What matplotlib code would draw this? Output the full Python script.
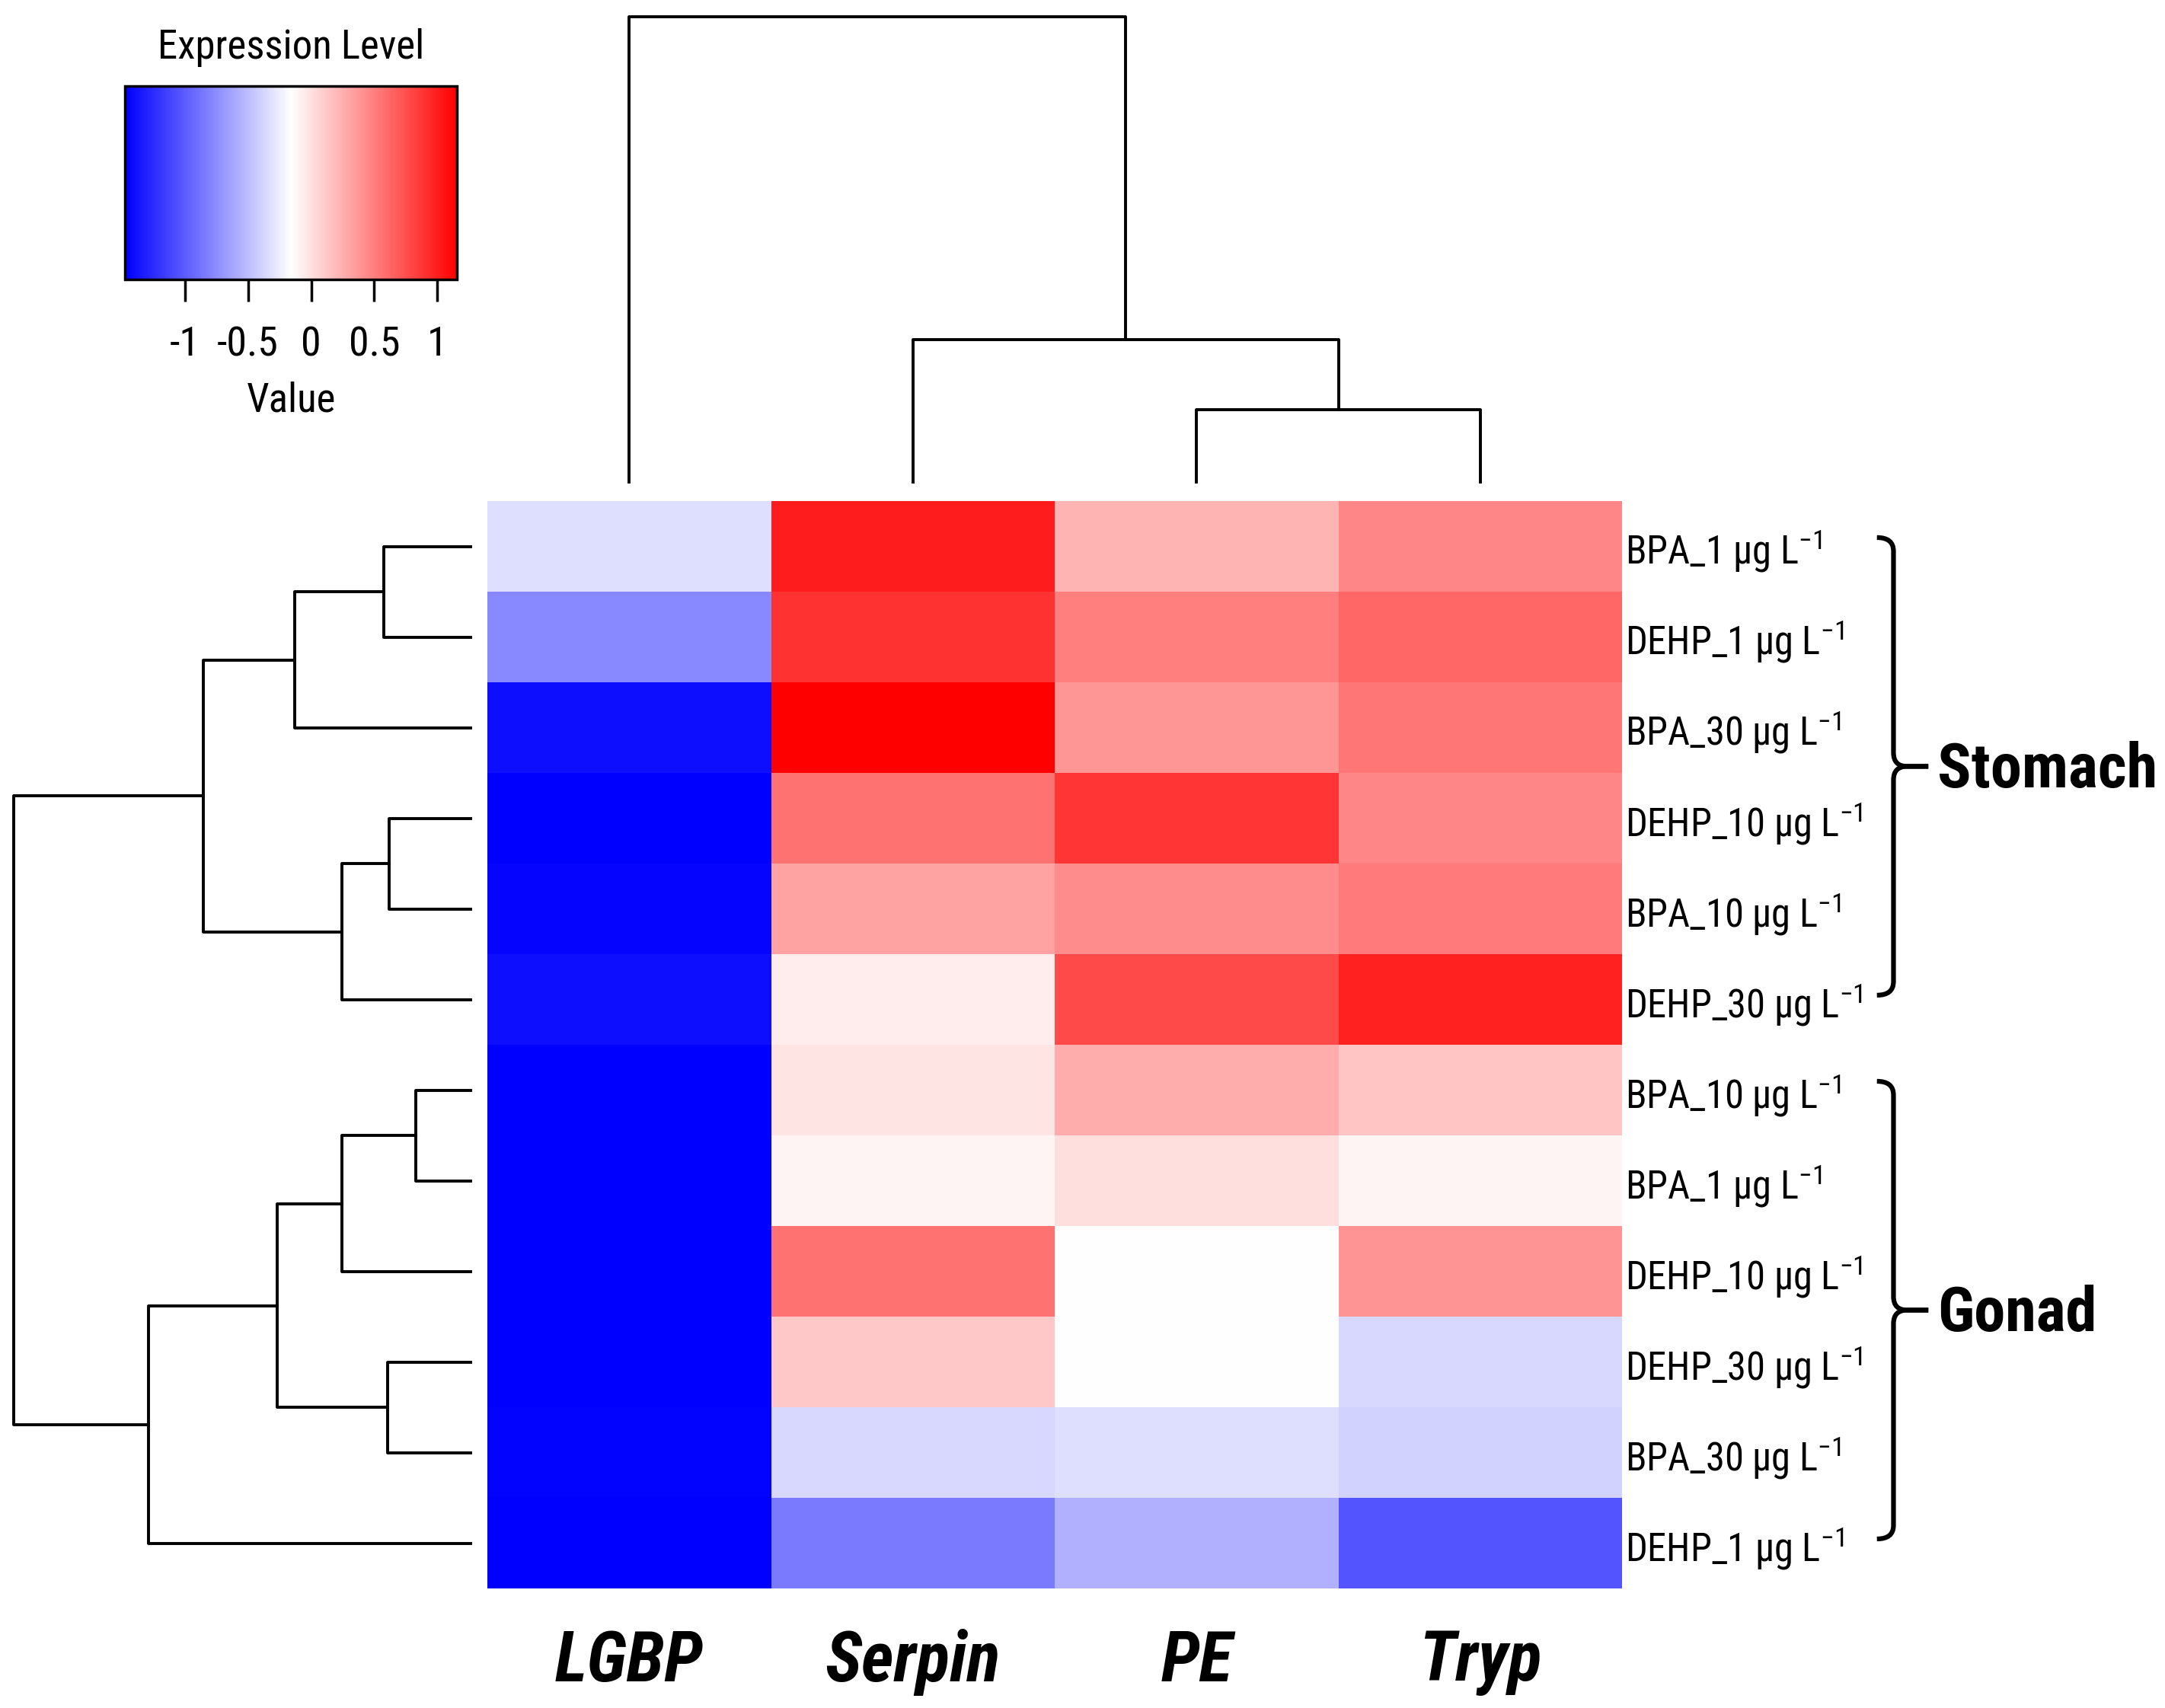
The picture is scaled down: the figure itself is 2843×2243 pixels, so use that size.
import numpy as np
import matplotlib
matplotlib.use("Agg")
import matplotlib.pyplot as plt
from matplotlib import font_manager
from matplotlib.colors import LinearSegmentedColormap, Normalize
from matplotlib.cm import ScalarMappable
from matplotlib.path import Path
from matplotlib.patches import PathPatch

genes = ["LGBP", "Serpin", "PE", "Tryp"]
samples = ["BPA_1", "DEHP_1", "BPA_30", "DEHP_10", "BPA_10", "DEHP_30",
           "BPA_10", "BPA_1", "DEHP_10", "DEHP_30", "BPA_30", "DEHP_1"]
tissues = ["Stomach", "Gonad"]
tissue_rows = [(0, 5), (6, 11)]

lgbp = [-0.33, -0.77, -1.40, -1.476, -1.45, -1.40, -1.476, -1.47, -1.47, -1.476, -1.46, -1.476]
serpin = [1.01, 0.89, 1.157, 0.565, 0.315, -0.06, -0.02, -0.10, 0.565, 0.12, -0.36, -0.84]
pe = [0.225, 0.50, 0.38, 0.88, 0.43, 0.775, 0.27, 0.01, -0.16, -0.16, -0.325, -0.57]
tryp = [0.46, 0.63, 0.54, 0.46, 0.525, 0.985, 0.145, -0.10, 0.39, -0.36, -0.39, -1.04]

# dendrogram merges (left, right, height), leaves numbered in plotting order
row_merges = [(0, 1, 0.191), (12, 2, 0.385), (3, 4, 0.179), (14, 5, 0.282),
              (13, 15, 0.585), (6, 7, 0.121), (17, 8, 0.282), (9, 10, 0.182),
              (18, 19, 0.424), (20, 11, 0.706), (16, 21, 1.0)]
col_merges = [(2, 3, 0.155), (1, 4, 0.306), (0, 5, 1.0)]

cbar_ticks = [-1, -0.5, 0, 0.5, 1]
cbar_labels = ["-1", "-0.5", "0", "0.5", "1"]

# a narrow sans if there is one, else plain Liberation Sans
installed = {f.name for f in font_manager.fontManager.ttflist}
candidates = ["Liberation Sans Narrow", "Roboto Condensed", "DejaVu Sans Condensed",
              "Open Sans Condensed", "Liberation Sans"]
narrow = next(c for c in candidates if c in installed or c == "Liberation Sans")
plt.rcParams["font.family"] = [narrow, "DejaVu Sans"]
plt.rcParams["mathtext.fontset"] = "custom"
plt.rcParams["mathtext.rm"] = narrow
plt.rcParams["mathtext.it"] = narrow + ":italic"
plt.rcParams["mathtext.bf"] = narrow + ":bold"


def dendro_segments(merges, n):
    pos = {i: i + 0.5 for i in range(n)}
    hgt = {i: 0.0 for i in range(n)}
    segs = []
    for k, (a, b, h) in enumerate(merges):
        segs.append([(pos[a], hgt[a]), (pos[a], h), (pos[b], h), (pos[b], hgt[b])])
        pos[n + k] = (pos[a] + pos[b]) / 2
        hgt[n + k] = h
    return segs


def fit_size(text, width_px, **kw):
    # font size that makes `text` about width_px wide
    t = fig.text(0, 0, text, fontsize=100, **kw)
    w = t.get_window_extent(renderer).width
    t.remove()
    return 100 * width_px / w


data = np.array([lgbp, serpin, pe, tryp]).T
cmap = LinearSegmentedColormap.from_list("bwr_r", ["#0000ff", "#ffffff", "#ff0000"])
norm = Normalize(vmin=data.min(), vmax=data.max())

fig = plt.figure(figsize=(28.43, 22.43), dpi=100)
renderer = fig.canvas.get_renderer()

row_fs = fit_size("DEHP_10 µg L$^{-1}$", 311)
col_fs = fit_size("LGBP", 195, fontweight="bold", fontstyle="italic")
tis_fs = fit_size("Stomach", 289, fontweight="bold")
key_fs = fit_size("Expression Level", 351)

# heatmap
ax = fig.add_axes([0.2252, 0.0698, 0.5240, 0.6367])
ax.pcolormesh(np.arange(len(genes) + 1), np.arange(len(samples) + 1), data,
              cmap=cmap, norm=norm)
ax.set_xlim(0, len(genes))
ax.set_ylim(len(samples), 0)
for s in ax.spines.values():
    s.set_visible(False)
ax.set_xticks(np.arange(len(genes)) + 0.5)
ax.set_xticklabels(genes, fontsize=col_fs, fontweight="bold", fontstyle="italic")
ax.tick_params(axis="x", length=0, pad=38)
ax.yaxis.tick_right()
ax.set_yticks(np.arange(len(samples)) + 0.5)
ax.set_yticklabels([s + " µg L$^{-1}$" for s in samples], fontsize=row_fs)
ax.tick_params(axis="y", length=0, pad=3)

# braces and tissue labels
tr = ax.get_yaxis_transform()
xl, xv, xt, rx, ry = 1.2247, 1.2393, 1.27, 0.012, 0.15
for name, (r0, r1) in zip(tissues, tissue_rows):
    y0, y1 = r0 + 0.4, r1 + 0.45
    ym = (y0 + y1) / 2
    for ya, sgn in [(y0, 1), (y1, -1)]:
        verts = [(xl, ya), (xv, ya), (xv, ya + sgn * ry), (xv, ym - sgn * ry),
                 (xv, ym), (xv + rx, ym), (xt, ym)]
        codes = [Path.MOVETO, Path.CURVE3, Path.CURVE3, Path.LINETO,
                 Path.CURVE3, Path.CURVE3, Path.LINETO]
        ax.add_patch(PathPatch(Path(verts, codes), transform=tr, fill=False,
                               lw=4.5, color="black", clip_on=False))
    ax.text(1.278, ym + 0.05, name, transform=tr, fontsize=tis_fs, fontweight="bold",
            ha="left", va="center")

# column dendrogram
axt = fig.add_axes([0.2252, 0.7178, 0.5240, 0.2725])
for seg in dendro_segments(col_merges, len(genes)):
    xs, ys = zip(*seg)
    axt.plot(xs, ys, color="black", lw=2.8, clip_on=False)
axt.set_xlim(0, len(genes))
axt.set_ylim(0, 1)
axt.axis("off")

# row dendrogram
axl = fig.add_axes([0.0064, 0.0698, 0.2111, 0.6367])
for seg in dendro_segments(row_merges, len(samples)):
    ys, xs = zip(*seg)
    axl.plot(xs, ys, color="black", lw=2.8, clip_on=False)
axl.set_xlim(1, 0)
axl.set_ylim(len(samples), 0)
axl.axis("off")

# color key
cax = fig.add_axes([0.0576, 0.8362, 0.1536, 0.1135])
cb = fig.colorbar(ScalarMappable(norm=norm, cmap=cmap), cax=cax, orientation="horizontal")
cb.set_ticks(cbar_ticks)
cb.set_ticklabels(cbar_labels)
cb.outline.set_linewidth(2.5)
cax.tick_params(axis="x", labelsize=key_fs * 1.02, length=21, width=2.5, pad=22)
cax.set_title("Expression Level", fontsize=key_fs, pad=26)
cax.set_xlabel("Value", fontsize=key_fs, labelpad=16)

fig.savefig("out.png", dpi=100, facecolor="white")
